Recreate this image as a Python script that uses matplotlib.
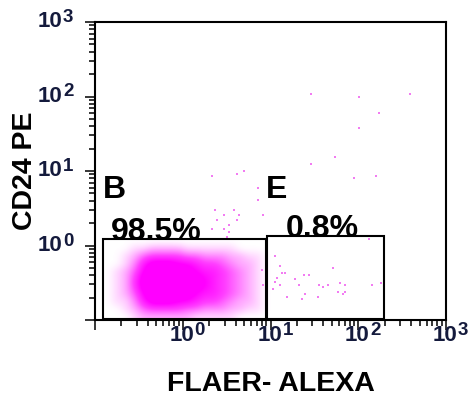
import numpy as np
import matplotlib
matplotlib.use("Agg")
import matplotlib.pyplot as plt
from matplotlib.colors import LinearSegmentedColormap, Normalize
from matplotlib.patches import Rectangle

plt.rcParams['font.family'] = ['Liberation Sans', 'DejaVu Sans']

# ---------------- data ----------------
# density of the main population on a grid of log10 bins (estimated intensity 0-10)
log_x_edges = [-1.0, 1.0]     # log10 range covered by the density grid (x)
log_y_edges = [-1.0, 0.2]     # log10 range covered by the density grid (y)
density = [  # rows from bottom (log y -1.0) to top (log y 0.2), 20 columns of 0.1 decade
    [0, 0, 0, 0, 1, 2, 2, 2, 2, 2, 2, 1, 1, 1, 1, 1, 0, 0, 0, 0],
    [0, 0, 0, 1, 2, 4, 5, 5, 5, 5, 4, 4, 3, 3, 3, 2, 2, 1, 1, 0],
    [0, 0, 1, 1, 3, 6, 8, 8, 8, 7, 7, 6, 5, 5, 4, 3, 2, 2, 1, 0],
    [0, 0, 1, 2, 4, 7, 9, 10, 10, 9, 8, 7, 6, 6, 5, 4, 3, 2, 1, 0],
    [0, 0, 1, 2, 5, 8, 10, 10, 10, 10, 9, 8, 7, 6, 5, 4, 3, 2, 1, 0],
    [0, 0, 1, 2, 5, 8, 10, 10, 10, 10, 9, 8, 7, 6, 5, 4, 3, 2, 1, 0],
    [0, 0, 1, 2, 4, 7, 9, 10, 10, 9, 8, 7, 6, 6, 5, 4, 3, 2, 1, 0],
    [0, 0, 0, 1, 3, 6, 8, 8, 8, 7, 7, 6, 5, 5, 4, 3, 2, 2, 1, 0],
    [0, 0, 0, 1, 2, 4, 5, 5, 5, 5, 4, 4, 3, 3, 3, 2, 2, 1, 1, 0],
    [0, 0, 0, 0, 1, 1, 2, 2, 2, 2, 1, 1, 1, 1, 1, 1, 0, 0, 0, 0],
    [0, 0, 0, 0, 0, 0, 0, 0, 0, 0, 0, 0, 0, 0, 0, 0, 0, 0, 0, 0],
    [0, 0, 0, 0, 0, 0, 0, 0, 0, 0, 0, 0, 0, 0, 0, 0, 0, 0, 0, 0],
]

# individual sparse events
event_x = [29.0, 102, 389, 172, 102, 54.3, 29.0, 89.5, 159, 2.15, 4.15, 4.99, 7.2, 7.2,
           2.33, 2.95, 3.84, 4.38, 8.2, 2.46, 4.15, 3.37, 2.15, 2.95, 3.37, 3.19,
           11.2, 12.8, 13.5, 14.6, 11.9, 11.2, 10.7, 12.8, 19.0, 24.1, 27.5, 51.5,
           21.1, 35.7, 45.2, 39.6, 62, 70.6, 70.6, 67, 58.8, 24.7, 22.9, 15.4, 34.8,
           143, 182, 133, 8.0, 8.2]
event_y = [108, 98, 108, 60, 37.8, 15.4, 12.4, 8.05, 8.57, 8.57, 9.12, 10, 5.9, 4.08,
           3.0, 2.57, 3.0, 2.57, 2.57, 2.2, 2.2, 1.88, 1.66, 1.66, 1.52, 1.30,
           0.72, 0.53, 0.43, 0.43, 0.37, 0.32, 0.26, 0.295, 0.355, 0.40, 0.40, 0.50,
           0.295, 0.295, 0.295, 0.277, 0.314, 0.295, 0.238, 0.223, 0.238, 0.223, 0.19,
           0.204, 0.204, 0.295, 0.314, 1.22, 0.47, 0.295]

# gates
gate_names = ['B', 'E']
gate_pcts = ['98.5%', '0.8%']
gate_x0 = [0.124, 9.2]
gate_x1 = [9.0, 198]
gate_y0 = [0.103, 0.103]
gate_y1 = [1.21, 1.34]

x_tick_exps = [0, 1, 2, 3]
y_tick_exps = [0, 1, 2, 3]

# ---------------- figure ----------------
W, H = 475, 396
fig = plt.figure(figsize=(W / 100, H / 100), dpi=100)
rect = [95 / W, 76 / H, 351 / W, 298 / H]

# underlying axes in log10 units for the density image
ax_img = fig.add_axes(rect, zorder=0)
ax_img.set_xlim(-1, 3)
ax_img.set_ylim(-1, 3)
ax_img.axis('off')
cmap = LinearSegmentedColormap.from_list('mag', ['#ffffff', '#ffa0ff', '#ff40ff', '#ff00ff'])
ax_img.imshow(np.array(density, float), origin='lower', aspect='auto',
              extent=[log_x_edges[0], log_x_edges[1], log_y_edges[0], log_y_edges[1]],
              cmap=cmap, norm=Normalize(0, 7, clip=True), interpolation='bicubic')

ax = fig.add_axes(rect, zorder=1)
ax.set_facecolor('none')
ax.set_xscale('log')
ax.set_yscale('log')
ax.set_xlim(0.1, 1000)
ax.set_ylim(0.1, 1000)

# sparse events
ax.scatter(event_x, event_y, s=3, c='#f27cf2', linewidths=0, marker='s', zorder=2)

# gates and labels
label_pos = [(0.123, 4.35), (8.9, 4.35)]
pct_pos = [(0.151, 1.19), (14.9, 1.30)]
for i in range(2):
    ax.add_patch(Rectangle((gate_x0[i], gate_y0[i]), gate_x1[i] - gate_x0[i],
                           gate_y1[i] - gate_y0[i], fill=False, ec='black', lw=1.5,
                           zorder=4, clip_on=False))
    ax.text(*label_pos[i], gate_names[i], fontsize=23, fontweight='bold',
            ha='left', va='baseline', zorder=3)
    ax.text(*pct_pos[i], gate_pcts[i], fontsize=23, fontweight='bold',
            ha='left', va='baseline', zorder=3)

# spines and ticks
for s in ax.spines.values():
    s.set_linewidth(1.5)
ax.tick_params(which='major', direction='out', length=7.5, width=1.1,
               labelbottom=False, labelleft=False)
ax.tick_params(which='minor', direction='out', length=4.5, width=1.1)

tick_col = '#141a3c'
for k in x_tick_exps:
    ax.annotate('10', xy=(10 ** k, 0), xycoords=('data', 'axes fraction'),
                xytext=(-0.7, -15.1), textcoords='offset points', ha='center',
                va='baseline', fontsize=16, fontweight='bold', color=tick_col,
                annotation_clip=False)
    ax.annotate(str(k), xy=(10 ** k, 0), xycoords=('data', 'axes fraction'),
                xytext=(8.6, -10.8), textcoords='offset points', ha='left',
                va='baseline', fontsize=13.5, fontweight='bold', color=tick_col,
                annotation_clip=False)
for k in y_tick_exps:
    ax.annotate('10', xy=(0, 10 ** k), xycoords=('axes fraction', 'data'),
                xytext=(-23.8, -3.8), textcoords='offset points', ha='right',
                va='baseline', fontsize=16, fontweight='bold', color=tick_col,
                annotation_clip=False)
    ax.annotate(str(k), xy=(0, 10 ** k), xycoords=('axes fraction', 'data'),
                xytext=(-23.0, 0.0), textcoords='offset points', ha='left',
                va='baseline', fontsize=13.5, fontweight='bold', color=tick_col,
                annotation_clip=False)

# axis titles
fig.text(270.5 / W, 1 - 391 / H, 'FLAER- ALEXA', ha='center', va='baseline',
         fontsize=20.5, fontweight='bold')
fig.text(32.5 / W, 1 - 171 / H, 'CD24 PE', rotation=90, rotation_mode='anchor',
         ha='center', va='baseline', fontsize=20.5, fontweight='bold')

fig.savefig('out.png', dpi=100)
